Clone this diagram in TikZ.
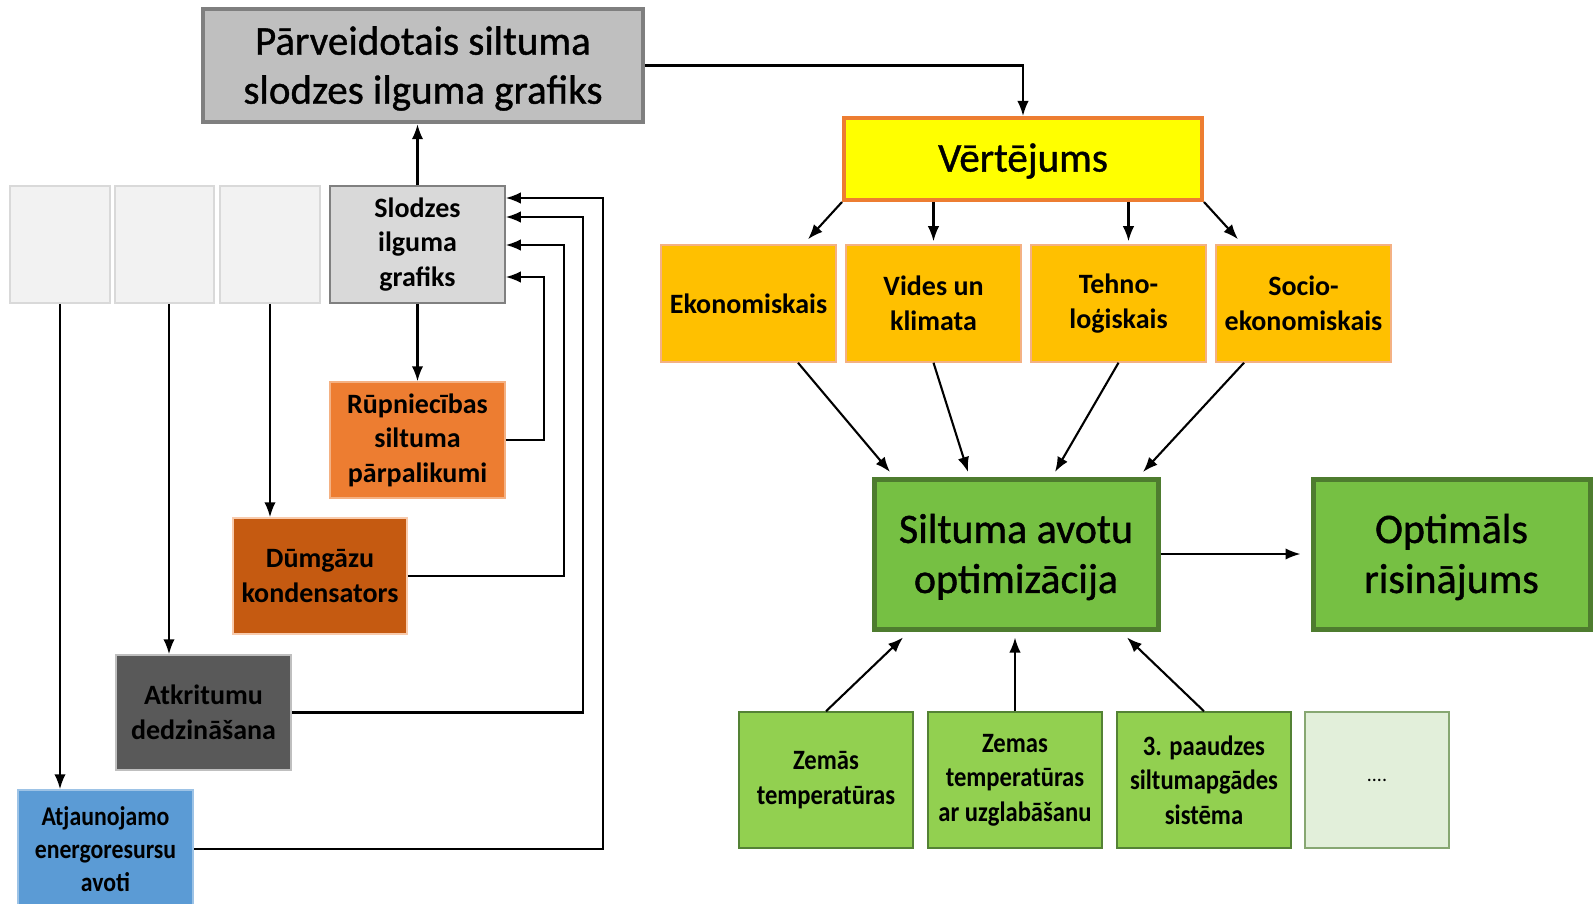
\documentclass[tikz,border=0pt]{standalone}
\usepackage{fontspec}
\setmainfont{Carlito}
\newfontfamily\condfont[FakeStretch=0.88]{Carlito}
\newfontfamily\medfont[FakeBold=1]{Carlito}
\usetikzlibrary{arrows.meta,calc}
\definecolor{topfill}{HTML}{BFBFBF}
\definecolor{topdraw}{HTML}{7F7F7F}
\definecolor{lightfill}{HTML}{F2F2F2}
\definecolor{lightdraw}{HTML}{D9D9D9}
\definecolor{slfill}{HTML}{D9D9D9}
\definecolor{sldraw}{HTML}{808080}
\definecolor{rupfill}{HTML}{ED7D31}
\definecolor{rupdraw}{HTML}{F4B183}
\definecolor{dumfill}{HTML}{C55A11}
\definecolor{dumdraw}{HTML}{F8CBAD}
\definecolor{atkfill}{HTML}{595959}
\definecolor{atkdraw}{HTML}{BFBFBF}
\definecolor{atjfill}{HTML}{5B9BD5}
\definecolor{atjdraw}{HTML}{9DC3E6}
\definecolor{vertfill}{HTML}{FFFF00}
\definecolor{vertdraw}{HTML}{ED7D31}
\definecolor{efill}{HTML}{FFC000}
\definecolor{edraw}{HTML}{F4B183}
\definecolor{gfill}{HTML}{76C043}
\definecolor{gdraw}{HTML}{4E7C2F}
\definecolor{bfill}{HTML}{92D050}
\definecolor{bdraw}{HTML}{548235}
\definecolor{b4fill}{HTML}{E2EFDA}
\newcommand{\lowered}[2]{\raisebox{-#1}[\height][\depth]{#2}}
\begin{document}
\begin{tikzpicture}[x=1pt,y=-1pt,
  bx/.style={draw, inner sep=0pt, align=center, minimum width=175pt, minimum height=117pt, line width=1.5pt},
  smallbold/.style={font=\fontsize{28}{34.5}\selectfont\bfseries},
  condbold/.style={font=\condfont\fontsize{28}{34.5}\selectfont\bfseries},
  bigtext/.style={font=\medfont\fontsize{41}{49}\selectfont},
  arr/.style={line width=2.1pt, -{Latex[length=15pt,width=11.5pt]}},
  fb/.style={line width=2.1pt, -{Latex[length=15pt,width=11.5pt]}}]
\useasboundingbox (0,0) rectangle (1593,904);

% left side
\node[bx, bigtext, fill=topfill, draw=topdraw, line width=4.5pt, minimum width=440pt, minimum height=113pt] (top) at (423,65.5) {\lowered{3pt}{\parbox{430pt}{\centering Pārveidotais siltuma\\slodzes ilguma grafiks}}};
\node[bx, fill=lightfill, draw=lightdraw, minimum width=100pt] (l1) at (60,244.5) {};
\node[bx, fill=lightfill, draw=lightdraw, minimum width=99pt] (l2) at (164.5,244.5) {};
\node[bx, fill=lightfill, draw=lightdraw, minimum width=100pt] (l3) at (270,244.5) {};
\node[bx, smallbold, fill=slfill, draw=sldraw] (slodzes) at (417.5,244.5) {Slodzes\\ilguma\\grafiks};
\node[bx, smallbold, fill=rupfill, draw=rupdraw, minimum height=116pt] (rup) at (417.5,440) {Rūpniecības\\siltuma\\pārpalikumi};
\node[bx, smallbold, fill=dumfill, draw=dumdraw, minimum width=174pt, minimum height=116pt] (dum) at (320,576) {Dūmgāzu\\kondensators};
\node[bx, smallbold, fill=atkfill, draw=atkdraw, minimum height=115pt] (atk) at (203.5,712.5) {Atkritumu\\dedzināšana};
\node[bx, font=\condfont\fontsize{27}{33}\selectfont\bfseries, fill=atjfill, draw=atjdraw, minimum height=118pt] (atj) at (105.5,849) {Atjaunojamo\\energoresursu\\avoti};

\draw[arr] (slodzes.north) -- (slodzes.north |- top.south);
\draw[arr] (slodzes.south) -- (rup.north);
\draw[arr] (l1.south) -- (l1.south |- atj.north);
\coordinate (l2a) at ($(l2.south)+(4.5,0)$);
\draw[arr] (l2a) -- (l2a |- atk.north);
\draw[arr] (l3.south) -- (l3.south |- dum.north);

\draw[fb] (rup.east) -- ++(38,0) |- ($(slodzes.east)+(0,32.5)$);
\draw[fb] (dum.east) -- ++(156,0) |- ($(slodzes.east)+(0,0.5)$);
\draw[fb] (atk.east) -- ++(291,0) |- ($(slodzes.east)+(0,-27.5)$);
\draw[fb] (atj.east) -- ++(409,0) |- ($(slodzes.east)+(0,-46.5)$);

% right side
\node[bx, bigtext, fill=vertfill, draw=vertdraw, line width=4pt, minimum width=358pt, minimum height=82pt] (vert) at (1023,159) {\lowered{2pt}{Vērtējums}};
\node[bx, smallbold, fill=efill, draw=edraw] (e1) at (748.5,303.5) {Ekonomiskais};
\node[bx, smallbold, fill=efill, draw=edraw] (e2) at (933.5,303.5) {Vides un\\klimata};
\node[bx, smallbold, fill=efill, draw=edraw] (e3) at (1118.5,303.5) {Tehno-\\loģiskais};
\node[bx, smallbold, fill=efill, draw=edraw] (e4) at (1303.5,303.5) {Socio-\\ekonomiskais};

\node[bx, font=\medfont\fontsize{42}{50}\selectfont, fill=gfill, draw=gdraw, line width=5pt, minimum width=284pt, minimum height=150pt] (silt) at (1016,554) {\lowered{3pt}{\parbox{270pt}{\centering Siltuma avotu\\optimizācija}}};
\node[bx, font=\medfont\fontsize{42}{50}\selectfont, fill=gfill, draw=gdraw, line width=5pt, minimum width=277pt, minimum height=150pt] (opt) at (1451.5,554) {\lowered{3pt}{\parbox{265pt}{\centering Optimāls\\risinājums}}};

\node[bx, condbold, fill=bfill, draw=bdraw, minimum width=174pt, minimum height=136pt] (b1) at (826,780) {Zemās\\temperatūras};
\node[bx, condbold, fill=bfill, draw=bdraw, minimum width=174pt, minimum height=136pt] (b2) at (1015,780) {Zemas\\temperatūras\\ar uzglabāšanu};
\node[bx, condbold, fill=bfill, draw=bdraw, minimum width=174pt, minimum height=136pt] (b3) at (1204,780) {3. paaudzes\\siltumapgādes\\sistēma};
\node[bx, font=\fontsize{20}{24}\selectfont, fill=b4fill, draw=bdraw!70, minimum width=144pt, minimum height=136pt] (b4) at (1377,780) {....};

\draw[arr] (top.east) -| (vert.north);
\draw[arr] (vert.south west) -- ($(e1.north)+(59.5,-5)$);
\draw[arr] (vert.south -| e2.north) -- ($(e2.north)+(0,-3)$);
\coordinate (e3a) at ($(e3.north)+(10,0)$);
\draw[arr] (vert.south -| e3a) -- ($(e3a)+(0,-3)$);
\draw[arr] (vert.south east) -- ($(e4.north)+(-65.5,-5)$);

\draw[arr] ($(e1.south)+(49.5,0)$) -- ($(silt.north)+(-126,-4.5)$);
\draw[arr] (e2.south) -- ($(silt.north)+(-48,-4.5)$);
\draw[arr] (e3.south) -- ($(silt.north)+(39,-4.5)$);
\draw[arr] ($(e4.south)+(-59.5,0)$) -- ($(silt.north)+(127,-4.5)$);

\draw[arr] (silt.east) -- ($(opt.west)+(-10,0)$);

\draw[arr] (b1.north) -- ($(silt.south)+(-113,6)$);
\draw[arr] (b2.north) -- ($(silt.south)+(-1,6)$);
\draw[arr] (b3.north) -- ($(silt.south)+(111,6)$);
\end{tikzpicture}
\end{document}
